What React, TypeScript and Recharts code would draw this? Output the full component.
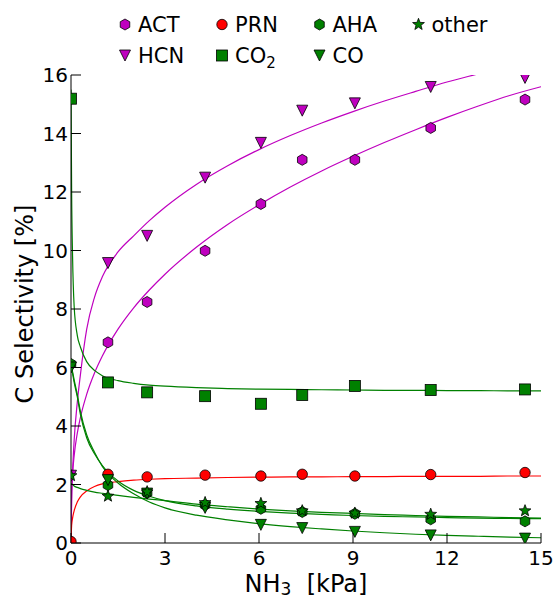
// Sélectivité carbone vs pression NH3 — points mesurés + courbes ajustées.
import { ComposedChart, Line, Scatter, XAxis, YAxis } from "recharts";

const FONT = "'DejaVu Sans', sans-serif";
const MAGENTA = "#bf00bf";
const RED = "#ff0000";
const GREEN = "#008000";

// points mesurés (x = NH3 en kPa)
const nh3 = [0, 1.18, 2.43, 4.28, 6.06, 7.38, 9.06, 11.48, 14.49];
const actPts = [null, 6.86, 8.24, 9.99, 11.59, 13.1, 13.1, 14.19, 15.16];
const hcnPts = [2.3, 9.57, 10.5, 12.49, 13.68, 14.78, 15.03, 15.59, 15.9];
const prnPts = [0.05, 2.35, 2.26, 2.32, 2.29, 2.35, 2.29, 2.34, 2.41];
const co2Pts = [15.19, 5.49, 5.15, 5.02, 4.76, 5.06, 5.37, 5.23, 5.25];
const ahaPts = [6.12, 1.98, 1.71, 1.3, 1.17, 1.06, 1.0, 0.81, 0.74];
const coPts = [6.0, 2.15, 1.69, 1.2, 0.62, 0.51, 0.38, 0.26, 0.15];
const otherPts = [2.3, 1.6, 1.75, 1.38, 1.35, 1.1, 1.02, 0.98, 1.1];

// courbes ajustées, relevées le long des traits
const fitX = [0, 0.02, 0.05, 0.1, 0.2, 0.3, 0.5, 0.75, 1, 1.5, 2, 2.5, 3, 4, 5, 6, 7, 8, 9, 10, 11, 12, 13, 14, 15];
const actFit = [0, 1.75, 2.37, 2.98, 3.75, 4.29, 5.08, 5.81, 6.39, 7.31, 8.04, 8.65, 9.19, 10.11, 10.89, 11.56, 12.17, 12.72, 13.22, 13.69, 14.13, 14.55, 14.94, 15.3, 15.6];
const hcnFit = [0, 1.4, 2.4, 3.5, 4.8, 5.75, 7.3, 8.4, 9.1, 9.95, 10.5, 11.02, 11.48, 12.26, 12.9, 13.45, 13.93, 14.36, 14.75, 15.11, 15.44, 15.76, 16.04, 16.32, 16.58];
const prnFit = [0, 0.6, 0.85, 1.1, 1.4, 1.58, 1.78, 1.93, 2.02, 2.1, 2.15, 2.18, 2.2, 2.22, 2.24, 2.25, 2.26, 2.26, 2.27, 2.27, 2.28, 2.28, 2.28, 2.29, 2.29];
const co2Fit = [15.5, 12.0, 9.8, 8.1, 7.1, 6.7, 6.2, 5.9, 5.72, 5.55, 5.46, 5.4, 5.36, 5.31, 5.28, 5.26, 5.25, 5.24, 5.23, 5.22, 5.22, 5.21, 5.21, 5.2, 5.2];
const ahaFit = [6.1, 5.98, 5.8, 5.5, 5.0, 4.4, 3.6, 3.05, 2.65, 2.12, 1.8, 1.6, 1.45, 1.27, 1.16, 1.08, 1.02, 0.98, 0.94, 0.91, 0.89, 0.87, 0.85, 0.84, 0.83];
const coFit = [6.1, 6.0, 5.85, 5.58, 5.08, 4.5, 3.7, 3.1, 2.62, 2.05, 1.68, 1.4, 1.2, 0.95, 0.79, 0.66, 0.56, 0.48, 0.41, 0.35, 0.3, 0.26, 0.23, 0.2, 0.18];
const otherFit = [2.03, 2.02, 2.0, 1.95, 1.9, 1.86, 1.8, 1.74, 1.7, 1.63, 1.56, 1.5, 1.45, 1.33, 1.24, 1.16, 1.1, 1.05, 1.01, 0.97, 0.94, 0.91, 0.89, 0.87, 0.85];

const xTicks = [0, 3, 6, 9, 12, 15];
const yTicks = [0, 2, 4, 6, 8, 10, 12, 14, 16];

const pts = (ys: (number | null)[]) =>
  nh3.map((x, i) => ({ x, y: ys[i] })).filter((p) => p.y !== null);
const fit = (ys: number[]) => fitX.map((x, i) => ({ x, y: ys[i] }));

type Kind = "hex" | "circle" | "square" | "tri" | "star";

function Marker({ kind, cx, cy, fill }: { kind: Kind; cx: number; cy: number; fill: string }) {
  const s = 5.5;
  const common = { fill, stroke: "#000", strokeWidth: 0.8 };
  if (kind === "circle") return <circle cx={cx} cy={cy} r={5.2} {...common} />;
  if (kind === "square") return <rect x={cx - s} y={cy - s} width={2 * s} height={2 * s} {...common} />;
  if (kind === "tri")
    return <polygon points={`${cx - s},${cy - s} ${cx + s},${cy - s} ${cx},${cy + s}`} {...common} />;
  const n = kind === "hex" ? 6 : 10;
  const pts: string[] = [];
  for (let k = 0; k < n; k++) {
    const a = (-90 + (360 / n) * k) * (Math.PI / 180);
    const r = kind === "hex" ? s : k % 2 === 0 ? 6.2 : 2.6;
    pts.push(`${cx + r * Math.cos(a)},${cy + r * Math.sin(a)}`);
  }
  return <polygon points={pts.join(" ")} {...common} />;
}

const SERIES: { name: string; kind: Kind; color: string; data: (number | null)[]; curve: number[] }[] = [
  { name: "ACT", kind: "hex", color: MAGENTA, data: actPts, curve: actFit },
  { name: "HCN", kind: "tri", color: MAGENTA, data: hcnPts, curve: hcnFit },
  { name: "PRN", kind: "circle", color: RED, data: prnPts, curve: prnFit },
  { name: "CO2", kind: "square", color: GREEN, data: co2Pts, curve: co2Fit },
  { name: "AHA", kind: "hex", color: GREEN, data: ahaPts, curve: ahaFit },
  { name: "CO", kind: "tri", color: GREEN, data: coPts, curve: coFit },
  { name: "other", kind: "star", color: GREEN, data: otherPts, curve: otherFit },
];

// ticks vers l'intérieur (style matplotlib classique), sur les quatre côtés
const BottomTick = ({ x, y, payload }: any) => (
  <g>
    <line x1={x} y1={y} x2={x} y2={y - 10} stroke="#000" strokeWidth={1} />
    <text x={x} y={y + 22} textAnchor="middle" fontSize={20} fontFamily={FONT} fill="#000">
      {payload.value}
    </text>
  </g>
);
const TopTick = ({ x, y }: any) => <line x1={x} y1={y} x2={x} y2={y + 10} stroke="#000" strokeWidth={1} />;
const LeftTick = ({ x, y, payload }: any) => (
  <g>
    <line x1={x} y1={y} x2={x + 10} y2={y} stroke="#000" strokeWidth={1} />
    <text x={x - 3} y={y} dy="0.36em" textAnchor="end" fontSize={20} fontFamily={FONT} fill="#000">
      {payload.value}
    </text>
  </g>
);
const RightTick = ({ x, y }: any) => <line x1={x} y1={y} x2={x - 10} y2={y} stroke="#000" strokeWidth={1} />;

function LegendLabel({ name }: { name: string }) {
  if (name === "CO2")
    return (
      <>
        CO<tspan dy={5} fontSize={15}>2</tspan>
      </>
    );
  return <>{name}</>;
}

// ordre matplotlib ncol=4 : remplissage par colonnes
const legendCols = [125, 222, 319.5, 418.5];
const legendRows = [24.5, 55.5];

export default function App() {
  const axisStroke = { stroke: "#000", strokeWidth: 1 };
  return (
    <div style={{ position: "absolute", left: 0, top: 0, width: 555, height: 599, background: "#fff" }}>
      <ComposedChart width={555} height={599} margin={{ top: 75, right: 14, bottom: 0, left: 0 }}>
        <XAxis
          type="number"
          dataKey="x"
          domain={[0, 15]}
          ticks={xTicks}
          interval={0}
          allowDataOverflow
          height={56}
          tickSize={0}
          tickMargin={0}
          tickLine={false}
          axisLine={axisStroke}
          tick={<BottomTick />}
        />
        <XAxis
          xAxisId="top"
          orientation="top"
          type="number"
          dataKey="x"
          domain={[0, 15]}
          ticks={xTicks}
          interval={0}
          allowDataOverflow
          height={0}
          tickSize={0}
          tickMargin={0}
          tickLine={false}
          axisLine={axisStroke}
          tick={<TopTick />}
        />
        <YAxis
          type="number"
          domain={[0, 16]}
          ticks={yTicks}
          interval={0}
          allowDataOverflow
          width={71}
          tickSize={0}
          tickMargin={0}
          tickLine={false}
          axisLine={axisStroke}
          tick={<LeftTick />}
        />
        <YAxis
          yAxisId="right"
          orientation="right"
          type="number"
          domain={[0, 16]}
          ticks={yTicks}
          interval={0}
          allowDataOverflow
          width={0}
          tickSize={0}
          tickMargin={0}
          tickLine={false}
          axisLine={axisStroke}
          tick={<RightTick />}
        />
        {SERIES.map((s) => (
          <Line
            key={`fit-${s.name}`}
            data={fit(s.curve)}
            dataKey="y"
            type="monotone"
            stroke={s.color}
            strokeWidth={1.2}
            dot={false}
            activeDot={false}
            isAnimationActive={false}
          />
        ))}
        {SERIES.map((s) => (
          <Scatter
            key={`pts-${s.name}`}
            data={pts(s.data)}
            dataKey="y"
            isAnimationActive={false}
            shape={(p: any) => <Marker kind={s.kind} cx={p.cx} cy={p.cy} fill={s.color} />}
          />
        ))}
      </ComposedChart>
      <svg
        width={555}
        height={599}
        style={{ position: "absolute", left: 0, top: 0, pointerEvents: "none" }}
        fontFamily={FONT}
      >
        {SERIES.map((s, i) => {
          const cx = legendCols[Math.floor(i / 2)];
          const cy = legendRows[i % 2];
          return (
            <g key={s.name}>
              <Marker kind={s.kind} cx={cx} cy={cy} fill={s.color} />
              <text x={cx + 13} y={cy + 7.6} fontSize={21} fill="#000">
                <LegendLabel name={s.name} />
              </text>
            </g>
          );
        })}
        <text x={306} y={592} textAnchor="middle" fontSize={24} fill="#000">
          NH<tspan dy={3} fontSize={17}>3</tspan>
          <tspan dy={-3}>{"\u00a0\u00a0[kPa]"}</tspan>
        </text>
        <text transform="translate(33,304) rotate(-90)" textAnchor="middle" fontSize={24} fill="#000">
          C Selectivity [%]
        </text>
      </svg>
    </div>
  );
}
